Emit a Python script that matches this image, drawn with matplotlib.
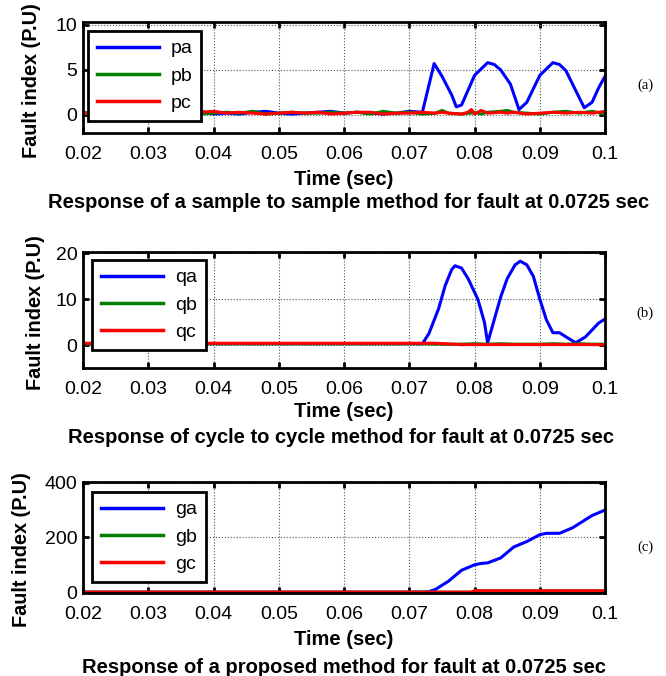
import numpy as np
import matplotlib.pyplot as plt

plt.rcParams['font.family'] = ['Liberation Sans', 'DejaVu Sans']

# ---- panel (a): sample to sample method ----
t_pa = [0.020, 0.022, 0.024, 0.026, 0.028, 0.030, 0.032, 0.034, 0.036, 0.038,
        0.040, 0.042, 0.044, 0.046, 0.048, 0.050, 0.052, 0.054, 0.056, 0.058,
        0.060, 0.062, 0.064, 0.066, 0.068, 0.070, 0.072, 0.0738, 0.075, 0.0765,
        0.0772, 0.078, 0.080, 0.082, 0.083, 0.084, 0.0855, 0.0868, 0.088, 0.090,
        0.092, 0.093, 0.094, 0.0955, 0.0968, 0.098, 0.099, 0.100]
pa = [0.2, 0.3, 0.2, 0.3, 0.2, 0.3, 0.2, 0.3, 0.2, 0.4,
      0.1, 0.2, 0.1, 0.3, 0.4, 0.2, 0.1, 0.2, 0.3, 0.4,
      0.2, 0.3, 0.2, 0.1, 0.2, 0.4, 0.3, 5.7, 4.3, 2.2,
      0.9, 1.1, 4.4, 5.8, 5.6, 5.0, 3.4, 0.6, 1.4, 4.4,
      5.8, 5.6, 4.9, 2.7, 0.8, 1.4, 3.0, 4.3]

t_pbc = [0.020, 0.022, 0.024, 0.026, 0.028, 0.030, 0.032, 0.034, 0.036, 0.038,
         0.040, 0.042, 0.044, 0.046, 0.048, 0.050, 0.052, 0.054, 0.056, 0.058,
         0.060, 0.062, 0.064, 0.066, 0.068, 0.070, 0.072, 0.074, 0.075, 0.076,
         0.078, 0.079, 0.0795, 0.080, 0.081, 0.082, 0.084, 0.085, 0.086, 0.088,
         0.090, 0.092, 0.094, 0.096, 0.098, 0.100]
pb = [0.2, 0.1, 0.2, 0.3, 0.2, 0.1, 0.2, 0.3, 0.2, 0.1,
      0.2, 0.3, 0.2, 0.4, 0.1, 0.2, 0.3, 0.2, 0.2, 0.3,
      0.2, 0.3, 0.1, 0.4, 0.2, 0.3, 0.1, 0.2, 0.5, 0.2,
      0.1, 0.2, 0.2, 0.3, 0.1, 0.3, 0.4, 0.5, 0.3, 0.2,
      0.1, 0.3, 0.4, 0.2, 0.4, 0.1]
pc = [0.2, 0.3, 0.1, 0.2, 0.3, 0.2, 0.3, 0.2, 0.1, 0.3,
      0.4, 0.2, 0.3, 0.2, 0.1, 0.2, 0.3, 0.2, 0.3, 0.1,
      0.2, 0.3, 0.3, 0.1, 0.2, 0.2, 0.3, 0.2, 0.3, 0.2,
      0.1, 0.3, 0.6, 0.1, 0.5, 0.2, 0.3, 0.2, 0.3, 0.1,
      0.2, 0.3, 0.2, 0.3, 0.2, 0.4]

# ---- panel (b): cycle to cycle method ----
t_qa = [0.020, 0.030, 0.040, 0.050, 0.060, 0.070, 0.072, 0.073, 0.0745, 0.0755,
        0.0765, 0.077, 0.078, 0.079, 0.0805, 0.0815, 0.082, 0.083, 0.084, 0.085,
        0.0862, 0.087, 0.088, 0.089, 0.090, 0.091, 0.092, 0.093, 0.094, 0.0955,
        0.097, 0.098, 0.099, 0.100]
qa = [0.3, 0.3, 0.3, 0.3, 0.3, 0.3, 0.3, 2.5, 8.0, 13.0,
      16.5, 17.3, 16.8, 14.5, 10.0, 5.0, 0.5, 5.5, 10.5, 14.5,
      17.5, 18.3, 17.5, 15.0, 10.0, 5.5, 2.7, 2.7, 1.8, 0.5,
      1.8, 3.3, 4.8, 5.7]
t_qbc = [0.020, 0.030, 0.040, 0.050, 0.060, 0.070, 0.072, 0.074, 0.078, 0.080,
         0.082, 0.084, 0.086, 0.090, 0.092, 0.094, 0.096, 0.098, 0.100]
qb = [0.3, 0.3, 0.3, 0.3, 0.3, 0.3, 0.3, 0.2, 0.2, 0.3,
      0.2, 0.3, 0.2, 0.2, 0.3, 0.2, 0.3, 0.2, 0.2]
qc = [0.4, 0.4, 0.4, 0.4, 0.4, 0.4, 0.4, 0.4, 0.1, 0.1,
      0.1, 0.1, 0.1, 0.1, 0.1, 0.1, 0.1, 0.1, 0.1]

# ---- panel (c): proposed method ----
t_ga = [0.020, 0.072, 0.073, 0.074, 0.076, 0.078, 0.080, 0.081, 0.082, 0.084,
        0.086, 0.088, 0.090, 0.091, 0.093, 0.095, 0.096, 0.098, 0.100]
ga = [0, 0, 2, 10, 40, 80, 100, 105, 107, 125,
      165, 185, 210, 215, 215, 235, 250, 280, 300]
t_gbc = [0.020, 0.0795, 0.080, 0.100]
gb = [0, 0, 5, 5]
gc = [0, 0, 5, 5]

panels = [
    dict(t=[t_pa, t_pbc, t_pbc], y=[pa, pb, pc], names=['pa', 'pb', 'pc'],
         ylim=(-2, 10.3), yticks=[0, 5, 10], tag='(a)', tag_y=0.43,
         caption='Response of a sample to sample method for fault at 0.0725 sec',
         rect=[0.1246, 0.8033, 0.784, 0.164],
         ylab=(-0.080, 0.47), xlab_y=-0.333, cap=(0.508, -0.63), leg=(0.01, 0.92)),
    dict(t=[t_qa, t_qbc, t_qbc], y=[qa, qb, qc], names=['qa', 'qb', 'qc'],
         ylim=(-5, 20.3), yticks=[0, 10, 20], tag='(b)', tag_y=0.47,
         caption='Response of cycle to cycle method for fault at 0.0725 sec',
         rect=[0.1246, 0.4556, 0.784, 0.1716],
         ylab=(-0.073, 0.48), xlab_y=-0.293, cap=(0.494, -0.595), leg=(0.018, 0.93)),
    dict(t=[t_ga, t_gbc, t_gbc], y=[ga, gb, gc], names=['ga', 'gb', 'gc'],
         ylim=(-3, 402), yticks=[0, 200, 400], tag='(c)', tag_y=0.41,
         caption='Response of a proposed method for fault at 0.0725 sec',
         rect=[0.1246, 0.1228, 0.784, 0.164],
         ylab=(-0.10, 0.39), xlab_y=-0.333, cap=(0.5, -0.676), leg=(0.018, 0.91)),
]

colors = ['#0000ff', '#008000', '#ff0000']

fig = plt.figure(figsize=(6.66, 6.76), dpi=100)

for p in panels:
    ax = fig.add_axes(p['rect'])
    for tt, yy, name, c in zip(p['t'], p['y'], p['names'], colors):
        ax.plot(tt, yy, color=c, lw=2.2, label=name)
    ax.set_xlim(0.02, 0.1)
    ax.set_ylim(*p['ylim'])
    ax.set_xticks([0.02, 0.03, 0.04, 0.05, 0.06, 0.07, 0.08, 0.09, 0.1])
    ax.set_xticklabels(['0.02', '0.03', '0.04', '0.05', '0.06', '0.07', '0.08', '0.09', '0.1'])
    ax.set_yticks(p['yticks'])
    ax.grid(True, color='#555555', linestyle=':', linewidth=0.8)
    ax.tick_params(direction='in', top=True, right=True, length=4, width=2,
                   labelsize=14)
    ax.tick_params(axis='x', pad=9.5)
    ax.tick_params(axis='y', pad=4)
    for s in ax.spines.values():
        s.set_linewidth(2)
    ax.set_xlabel('Time (sec)', fontsize=14.5, fontweight='bold')
    ax.xaxis.set_label_coords(0.5, p['xlab_y'])
    ax.set_ylabel('Fault index (P.U)', fontsize=14.3, fontweight='bold')
    ax.yaxis.set_label_coords(*p['ylab'])
    leg = ax.legend(loc='upper left', fontsize=14, handlelength=3.2,
                    handletextpad=0.6, fancybox=False, edgecolor='black',
                    framealpha=1, borderpad=0.45, labelspacing=0.5,
                    borderaxespad=0, bbox_to_anchor=p['leg'])
    leg.get_frame().set_linewidth(2)
    for line in leg.get_lines():
        line.set_linewidth(2.5)
    ax.text(1.077, p['tag_y'], p['tag'], transform=ax.transAxes, fontsize=10.5,
            family='Liberation Serif', ha='center', va='center')
    ax.text(p['cap'][0], p['cap'][1], p['caption'], transform=ax.transAxes,
            fontsize=14.5, fontweight='bold', ha='center', va='center')

fig.savefig('out.png', dpi=100)
